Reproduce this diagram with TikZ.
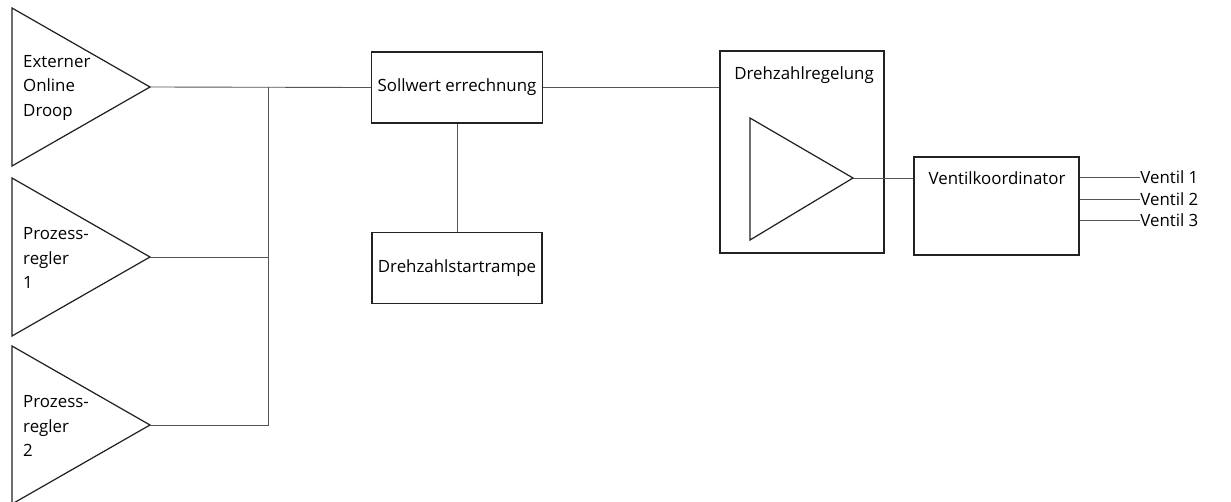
\documentclass[tikz,border=0pt]{standalone}
\usepackage{fontspec}
\setmainfont{Open Sans}
\usepackage{tikz}
\usetikzlibrary{positioning}
\definecolor{wirecol}{HTML}{555555}
\definecolor{framecol}{HTML}{222222}

\begin{document}
\begin{tikzpicture}[
  x=0.02cm, y=-0.02cm,
  font=\fontsize{9.6}{14.2}\selectfont,
  box/.style={draw=framecol, line width=0.7pt, minimum width=3.4cm, minimum height=1.42cm},
  tri/.style={draw=framecol, line width=0.7pt, line join=miter},
  wire/.style={draw=wirecol, line width=0.5pt},
  txt/.style={align=left, anchor=west},
  outlbl/.style={anchor=west, inner xsep=0pt},
]
\useasboundingbox (0,0) rectangle (1231,501);

% controllers on the left
\foreach \y/\name/\txt in {87/droop/{Externer\\Online\\Droop},
                           257/prz1/{Prozess-\\regler\\1},
                           425/prz2/{Prozess-\\regler\\2}} {
  \draw[tri] (12,\y-79) -- (150,\y) -- (12,\y+79) -- cycle;
  \coordinate (\name) at (150,\y);
  \node[txt] (\name-txt) at (17,\y+1) {\txt};
}

% setpoint path
\node[box] (soll) at (457,87.5) {Sollwert errechnung};
\node[box, below=2.16cm of soll] (rampe) {Drehzahlstartrampe};

\node[draw=framecol, line width=0.7pt, minimum width=3.28cm, minimum height=4.04cm]
  (regel) at (802,152) {};
\node (regel-txt) at (804,75) {Drehzahlregelung};
\draw[tri] (750,118) -- (853,178) -- (750,240) -- cycle;
\coordinate (amp) at (853,178);

\node[draw=framecol, line width=0.7pt, minimum width=3.3cm, minimum height=1.96cm]
  (ventil) at (996.5,206) {};
\node (ventil-txt) at (997,178) {Ventilkoordinator};

\node[outlbl] (v1) at (1140,177) {Ventil 1};
\node[outlbl] (v2) at (1140,199) {Ventil 2};
\node[outlbl] (v3) at (1140,220) {Ventil 3};

% connections
\coordinate (bus) at (268,87);
\draw[wire] (droop) -- (soll.west);
\draw[wire] (prz1) -- (prz1 -| bus);
\draw[wire] (prz2) -| (bus);
\draw[wire] (soll) -- (rampe);
\draw[wire] (soll.east) -- (soll.east -| regel.west);
\draw[wire] (amp) -- (amp -| ventil.west);
\draw[wire] (ventil.east |- v1) -- (v1.west);
\draw[wire] (ventil.east |- v2) -- (v2.west);
\draw[wire] (ventil.east |- v3) -- (v3.west);

\end{tikzpicture}
\end{document}
